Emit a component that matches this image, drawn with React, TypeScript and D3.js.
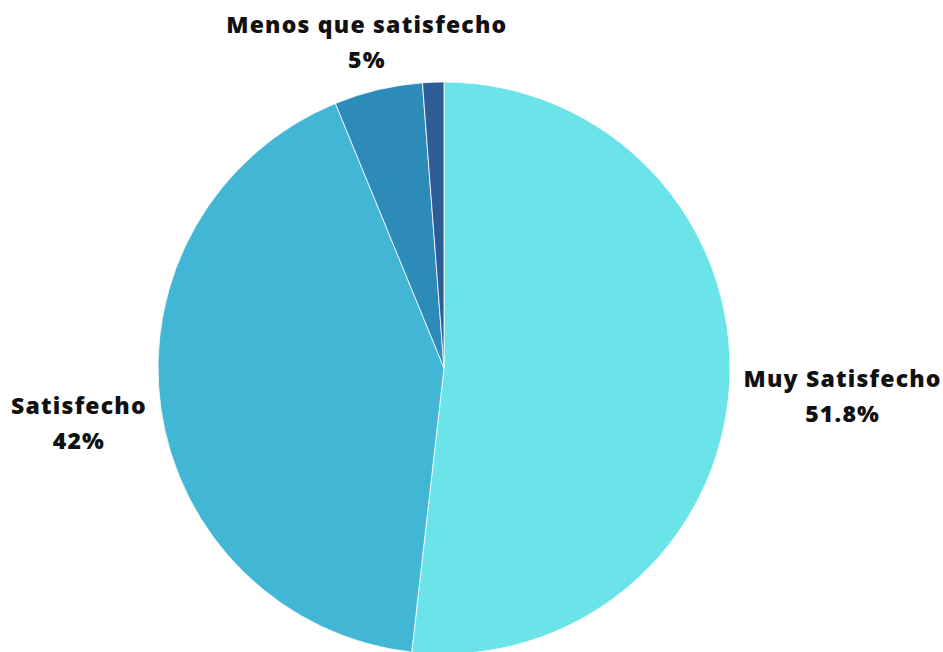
import React, { useEffect, useRef } from "react";
import * as d3 from "d3";

const categories = ["Muy Satisfecho", "Satisfecho", "Menos que satisfecho", "Insatisfecho"];
const values = [51.8, 42, 5, 1.2];
const labels = ["51.8%", "42%", "5%", ""];
const colors = ["#6AE4E8", "#42B7D5", "#2D8BBA", "#2C5D97"];

const W = 943;
const H = 652;

export default function App() {
  const ref = useRef<SVGSVGElement>(null);
  useEffect(() => {
    const svg = d3.select(ref.current);
    svg.selectAll("*").remove();
    const cx = 444, cy = 368, r = 286;
    const g = svg.append("g").attr("transform", `translate(${cx},${cy})`);
    const pie = d3.pie<number>().sort(null).value((d) => d);
    const arcs = pie(values);
    const arc = d3.arc<d3.PieArcDatum<number>>().innerRadius(0).outerRadius(r);
    g.selectAll("path")
      .data(arcs)
      .join("path")
      .attr("d", arc)
      .attr("fill", (_, i) => colors[i])
      .attr("stroke", "#ffffff")
      .attr("stroke-width", 0.8);

    const fontFamily = "'Open Sans', 'DejaVu Sans', sans-serif";
    const lh = 35;
    arcs.forEach((a, i) => {
      if (!labels[i]) return;
      const mid = (a.startAngle + a.endAngle) / 2;
      const px = Math.sin(mid) * (r + 10);
      const py = -Math.cos(mid) * (r + 10);
      const t = g.append("text")
        .attr("font-family", fontFamily)
        .attr("font-weight", 800)
        .attr("font-size", 23)
        .attr("letter-spacing", 1.2)
        .attr("fill", "#111")
        .attr("text-anchor", "middle");
      t.append("tspan").attr("x", 0).attr("dy", 0).text(categories[i]);
      t.append("tspan").attr("x", 0).attr("dy", lh).text(labels[i]);
      const bb = (t.node() as SVGTextElement).getBBox();
      const w = bb.width;
      let x: number, y0: number;
      if (Math.abs(Math.sin(mid)) < 0.5) {
        x = px - 9;
        y0 = py - 8 - lh - 4;
      } else if (px > 0) {
        x = px + w / 2 + 4;
        y0 = py + 2;
      } else {
        x = px - w / 2 - 4;
        y0 = py + 5;
      }
      t.attr("transform", `translate(${x},${y0})`);
    });
  }, []);
  return (
    <svg ref={ref} width={W} height={H} style={{ position: "absolute", left: 0, top: 0 }} />
  );
}
